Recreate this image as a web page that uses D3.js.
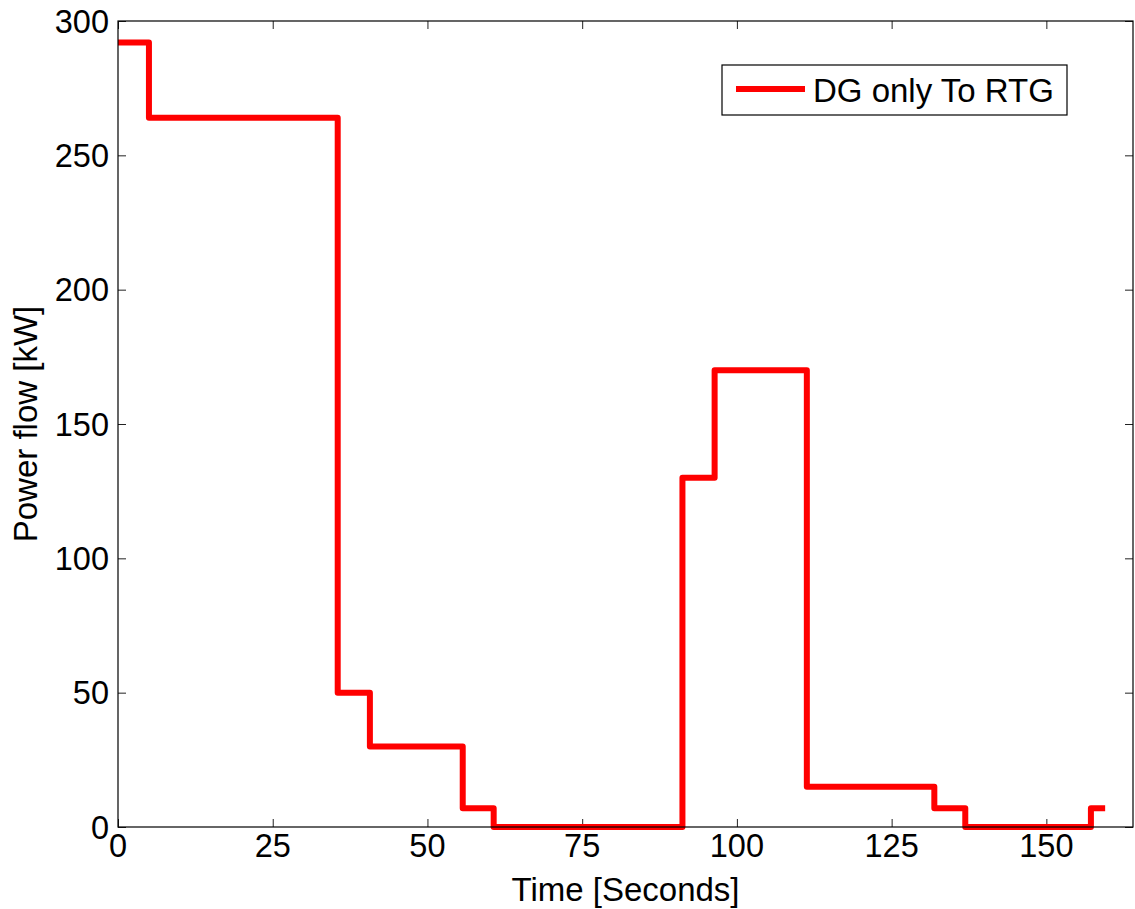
<!DOCTYPE html>
<html>
<head>
<meta charset="utf-8">
<script src="https://cdn.jsdelivr.net/npm/d3@7"></script>
<style>
  html, body { margin: 0; padding: 0; background: #fff; }
  svg { display: block; }
  text { font-family: "Liberation Sans", Arial, Helvetica, sans-serif; fill: #000; }
</style>
</head>
<body>
<script>
// Step series: time at which each level starts, and the level held until the next time
const stepTimes = [0, 5, 35.5, 40.7, 55.7, 60.7, 91.2, 96.4, 111.3, 131.9, 136.9, 157.2, 159.5];
const powerKW   = [292, 264, 50, 30, 7, 0, 130, 170, 15, 7, 0, 7, 7];

const xTicks = [0, 25, 50, 75, 100, 125, 150];
const yTicks = [0, 50, 100, 150, 200, 250, 300];
const xDomain = [0, 164];
const yDomain = [0, 300];

const seriesName = "DG only To RTG";
const xLabel = "Time [Seconds]";
const yLabel = "Power flow [kW]";

const W = 1135, H = 909;
const box = { left: 118, right: 1133, top: 21, bottom: 827 };

const svg = d3.select("body").append("svg").attr("width", W).attr("height", H);

const x = d3.scaleLinear().domain(xDomain).range([box.left, box.right]);
const y = d3.scaleLinear().domain(yDomain).range([box.bottom, box.top]);

const tickLen = 8;
const tickFont = 32.5;
const labelFont = 33;

// Inward ticks on all four sides
const axisG = svg.append("g");
axisG.append("g").attr("transform", `translate(0,${box.bottom})`)
  .call(d3.axisBottom(x).tickValues(xTicks).tickSize(-tickLen).tickFormat(""));
axisG.append("g").attr("transform", `translate(0,${box.top})`)
  .call(d3.axisTop(x).tickValues(xTicks).tickSize(-tickLen).tickFormat(""));
axisG.append("g").attr("transform", `translate(${box.left},0)`)
  .call(d3.axisLeft(y).tickValues(yTicks).tickSize(-tickLen).tickFormat(""));
axisG.append("g").attr("transform", `translate(${box.right},0)`)
  .call(d3.axisRight(y).tickValues(yTicks).tickSize(-tickLen).tickFormat(""));
axisG.selectAll(".domain").remove();
axisG.selectAll(".tick line").attr("stroke", "#222").attr("stroke-width", 1);

// Tick labels
svg.append("g").selectAll("text").data(xTicks).join("text")
  .attr("x", d => x(d)).attr("y", box.bottom + 30)
  .attr("text-anchor", "middle").attr("font-size", tickFont)
  .text(d => d);
svg.append("g").selectAll("text").data(yTicks).join("text")
  .attr("x", box.left - 9).attr("y", d => y(d) + 11.5)
  .attr("text-anchor", "end").attr("font-size", tickFont)
  .text(d => d);

// Step line
const pts = stepTimes.map((t, i) => [t, powerKW[i]]);
const line = d3.line().x(d => x(d[0])).y(d => y(d[1])).curve(d3.curveStepAfter);
svg.append("path").datum(pts)
  .attr("d", line)
  .attr("fill", "none").attr("stroke", "#ff0000")
  .attr("stroke-width", 6).attr("stroke-linejoin", "round");

// Plot frame
svg.append("rect")
  .attr("x", box.left).attr("y", box.top)
  .attr("width", box.right - box.left).attr("height", box.bottom - box.top)
  .attr("fill", "none").attr("stroke", "#000").attr("stroke-width", 1.2);

// Axis titles
svg.append("text").attr("x", (box.left + box.right) / 2).attr("y", 901)
  .attr("text-anchor", "middle").attr("font-size", labelFont).text(xLabel);
svg.append("text")
  .attr("transform", `translate(37,${(box.top + box.bottom) / 2}) rotate(-90)`)
  .attr("text-anchor", "middle").attr("font-size", labelFont).text(yLabel);

// Legend
const lg = svg.append("g");
lg.append("rect").attr("x", 722).attr("y", 65).attr("width", 345).attr("height", 50)
  .attr("fill", "#fff").attr("stroke", "#000").attr("stroke-width", 1.2);
lg.append("line").attr("x1", 736).attr("x2", 805).attr("y1", 89).attr("y2", 89)
  .attr("stroke", "#ff0000").attr("stroke-width", 6);
lg.append("text").attr("x", 813).attr("y", 102).attr("font-size", labelFont).text(seriesName);
</script>
</body>
</html>
